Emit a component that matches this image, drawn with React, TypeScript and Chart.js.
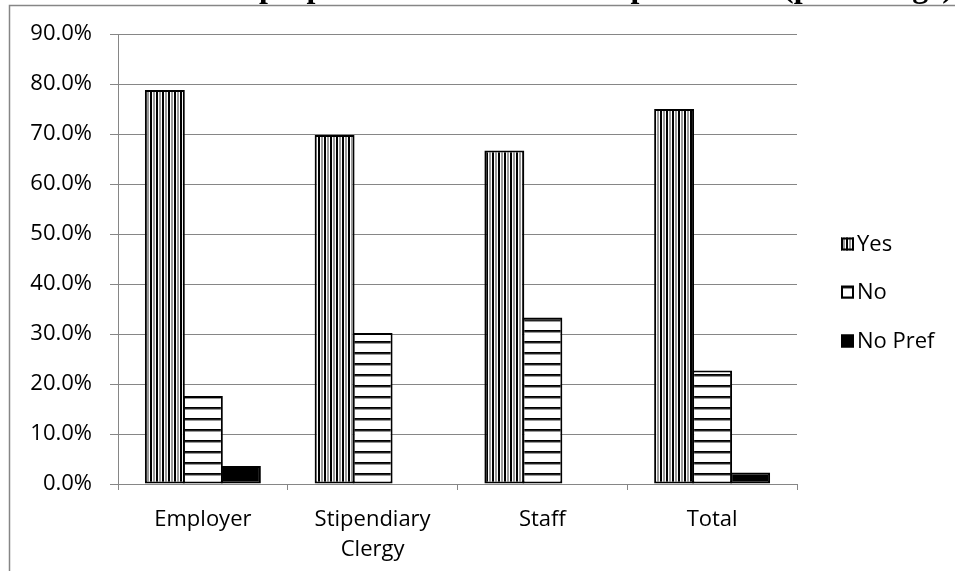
import React, { useEffect, useRef } from "react";
import { Chart, registerables } from "chart.js";

Chart.register(...registerables);

const categories: (string | string[])[] = ["Employer", ["Stipendiary", "Clergy"], "Staff", "Total"];
const seriesLabels = ["Yes", "No", "No Pref"];
const yesValues = [78.8, 69.8, 66.7, 75.0];
const noValues = [17.6, 30.2, 33.3, 22.7];
const noPrefValues = [3.6, 0, 0, 2.3];
const yMin = 0;
const yMax = 90;
const yStep = 10;
const titleText = "Attitudes to the proposal on the retirement preference (percentage)";

const FONT = '"Open Sans", sans-serif';
const FONT_SIZE = 22;
const GRID = "#868686";

function makePattern(kind: "v" | "h"): CanvasPattern | string {
  const c = document.createElement("canvas");
  const ctx = c.getContext("2d");
  if (!ctx) return "#888";
  if (kind === "v") {
    const cols = ["#000", "#000", "#fff", "#9a9a9a", "#9a9a9a", "#fff"];
    c.width = cols.length;
    c.height = 1;
    cols.forEach((col, i) => {
      ctx.fillStyle = col;
      ctx.fillRect(i, 0, 1, 1);
    });
  } else {
    const rows = ["#000", "#222", "#999", "#fff", "#fff", "#fff", "#fff", "#fff", "#fff", "#fff", "#fff"];
    c.width = 1;
    c.height = rows.length;
    rows.forEach((col, i) => {
      ctx.fillStyle = col;
      ctx.fillRect(0, i, 1, 1);
    });
  }
  return ctx.createPattern(c, "repeat") || "#888";
}

export default function App() {
  const ref = useRef<HTMLCanvasElement | null>(null);

  useEffect(() => {
    if (!ref.current) return;
    const yesFill = makePattern("v");
    const noFill = makePattern("h");
    const fills = [yesFill, noFill, "#000"];

    const decor = {
      id: "decor",
      beforeDraw(chart: any) {
        const ctx = chart.ctx as CanvasRenderingContext2D;
        ctx.save();
        ctx.fillStyle = "#fff";
        ctx.fillRect(0, 0, chart.width, chart.height);
        ctx.strokeStyle = GRID;
        ctx.lineWidth = 1.5;
        ctx.beginPath();
        ctx.moveTo(9.5, chart.height);
        ctx.lineTo(9.5, 5.5);
        ctx.lineTo(chart.width, 5.5);
        ctx.stroke();
        ctx.font = 'bold 32px "Liberation Serif", serif';
        ctx.textAlign = "right";
        ctx.textBaseline = "alphabetic";
        ctx.fillStyle = "#000";
        ctx.fillText(titleText, 953, -3);
        ctx.restore();
      },
      afterDraw(chart: any) {
        const ctx = chart.ctx as CanvasRenderingContext2D;
        ctx.save();
        const x0 = 841;
        const ys = [244, 292, 341];
        const size = 13;
        chart.data.datasets.forEach((ds: any, i: number) => {
          const y = ys[i];
          ctx.fillStyle = fills[i] as any;
          ctx.fillRect(x0, y - size / 2, size, size);
          ctx.strokeStyle = "#000";
          ctx.lineWidth = 2;
          ctx.strokeRect(x0 + 1, y - size / 2 + 1, size - 2, size - 2);
          ctx.fillStyle = "#000";
          ctx.font = `${FONT_SIZE}px ${FONT}`;
          ctx.textAlign = "left";
          ctx.textBaseline = "middle";
          ctx.fillText(ds.label, x0 + size + 3, y + 1);
        });
        ctx.restore();
      },
    };

    const chart = new Chart(ref.current, {
      type: "bar",
      data: {
        labels: categories as any,
        datasets: [
          { label: seriesLabels[0], data: yesValues, backgroundColor: yesFill as any, borderColor: "#000", borderWidth: 2, borderSkipped: false },
          { label: seriesLabels[1], data: noValues, backgroundColor: noFill as any, borderColor: "#000", borderWidth: 2, borderSkipped: false },
          { label: seriesLabels[2], data: noPrefValues, backgroundColor: "#000", borderColor: "#000", borderWidth: 2, borderSkipped: false },
        ],
      },
      options: {
        responsive: false,
        animation: false,
        devicePixelRatio: 1,
        layout: { padding: { top: 34, right: 158, bottom: 0, left: 0 } },
        datasets: { bar: { categoryPercentage: 0.672, barPercentage: 1.05 } },
        plugins: { legend: { display: false }, title: { display: false }, tooltip: { enabled: false } },
        scales: {
          x: {
            grid: { display: true, drawOnChartArea: false, drawTicks: true, tickLength: 6, color: GRID, offset: true },
            border: { display: true, color: GRID, width: 1 },
            ticks: { color: "#000", font: { family: FONT, size: FONT_SIZE, lineHeight: 1.36 }, padding: 15, maxRotation: 0, autoSkip: false },
            afterFit: (s: any) => { s.height = 87; },
          },
          y: {
            min: yMin,
            max: yMax,
            grid: { color: GRID, lineWidth: 1, tickLength: 8, drawTicks: true },
            border: { display: true, color: GRID, width: 1 },
            ticks: {
              stepSize: yStep,
              color: "#000",
              font: { family: FONT, size: FONT_SIZE },
              padding: 18,
              callback: (v: any) => Number(v).toFixed(1) + "%",
            },
            afterFit: (s: any) => { s.width = 118; },
          },
        },
      },
      plugins: [decor],
    });
    return () => chart.destroy();
  }, []);

  return (
    <div style={{ position: "fixed", left: 0, top: 0, width: 955, height: 571, background: "#fff" }}>
      <canvas ref={ref} width={955} height={571} style={{ display: "block", width: 955, height: 571 }} />
    </div>
  );
}
